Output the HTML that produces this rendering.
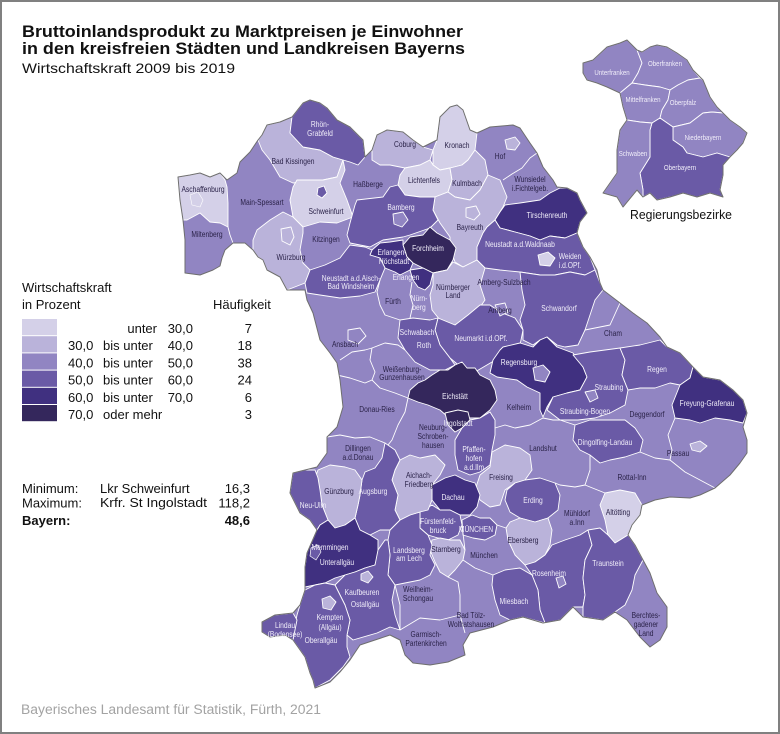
<!DOCTYPE html>
<html><head><meta charset="utf-8"><style>
html,body{margin:0;padding:0;background:#fff}
svg{display:block}
.l{font-family:"Liberation Sans",sans-serif;font-size:8.6px;text-anchor:middle}
.d{fill:#2a2248}.w{fill:#f0edf9}
.t{font-family:"Liberation Sans",sans-serif;fill:#111}
.b{fill:none;stroke:#fff;stroke-width:.9;stroke-linejoin:round}
.p{stroke:#fff;stroke-width:.9;stroke-linejoin:round}
.c1{fill:#d4d0e8}.c2{fill:#bab3da}.c3{fill:#9185c2}.c4{fill:#6a5aa6}.c5{fill:#403080}.c6{fill:#34275c}
.ol{fill:none;stroke:#6e6e6e;stroke-width:1;stroke-linejoin:round}
</style></head><body>
<svg width="780" height="734" viewBox="0 0 780 734" xmlns="http://www.w3.org/2000/svg">
<rect x="1" y="1" width="778" height="732" fill="#fff" stroke="#808080" stroke-width="2"/>

<!-- Title -->
<text class="t" x="22" y="37" font-size="16.5" font-weight="bold" textLength="441" lengthAdjust="spacingAndGlyphs">Bruttoinlandsprodukt zu Marktpreisen je Einwohner</text>
<text class="t" x="22" y="54" font-size="16.5" font-weight="bold" textLength="443" lengthAdjust="spacingAndGlyphs">in den kreisfreien Städten und Landkreisen Bayerns</text>
<text class="t" x="22" y="73" font-size="14" textLength="213" lengthAdjust="spacingAndGlyphs">Wirtschaftskraft 2009 bis 2019</text>

<!-- MAIN MAP base -->
<polygon class="c3" points="178,177 190,175 200,173 210,177 220,173 227,180 237,173 240,162 250,152 258,140 262,135 267,125 280,122 292,117 303,103 310,100 320,103 327,108 337,120 350,127 363,140 365,157 372,150 377,135 387,130 403,132 413,140 423,147 437,140 440,117 450,107 457,105 463,110 470,130 477,133 490,127 513,125 520,128 530,143 537,153 543,167 553,180 557,187 567,188 577,193 580,200 587,213 580,222 577,233 583,247 590,257 597,270 600,283 603,290 620,303 633,313 647,323 660,337 667,347 680,353 693,367 703,377 720,380 733,390 743,400 747,413 743,427 747,440 747,453 740,463 730,475 715,488 700,495 690,498 670,497 655,500 642,505 640,515 632,525 628,535 635,545 643,560 650,573 657,593 667,607 667,627 660,640 650,647 640,637 627,620 615,612 603,620 583,617 573,607 560,620 543,623 523,617 510,620 493,627 470,633 463,645 465,655 448,662 430,665 413,663 405,655 400,640 390,635 375,640 360,645 350,660 340,672 330,682 315,688 313,680 310,673 305,657 293,640 285,635 270,637 262,632 262,622 275,615 293,613 300,605 305,590 305,583 305,567 307,553 317,530 310,520 300,513 290,493 293,473 305,470 317,467 327,453 327,437 337,427 343,407 340,380 337,363 330,353 320,340 313,313 307,300 305,290 287,290 280,277 267,270 263,260 258,257 253,250 245,243 233,243 225,250 222,258 220,266 213,270 200,275 185,273 185,240 183,220 180,200"/>

<!-- Unterfranken -->
<polygon class="p c1" points="178,177 190,175 200,173 210,177 220,173 225,180 227,187 228,203 228,215 228,227 220,223 210,222 200,213 187,220 183,220 180,200"/>
<polygon class="p c1" points="190,195 198,192 203,200 200,207 192,205" style="stroke-width:.6"/>
<polygon class="p c2" points="258,140 262,135 267,125 280,122 292,117 290,133 303,147 320,150 333,157 343,160 337,177 323,180 305,182 293,183 280,177 270,160 262,150"/>
<polygon class="p c4" points="292,117 303,103 310,100 320,103 327,108 337,120 350,127 363,140 365,157 358,165 350,162 343,160 333,157 320,150 303,147 290,133"/>
<polygon class="p c1" points="297,180 323,180 337,177 343,160 345,170 340,183 347,200 353,217 337,223 320,222 303,227 293,217 290,200 293,187"/>
<polygon class="p c4" points="318,188 324,186 327,193 322,198 317,195"/>
<polygon class="p c2" points="253,240 257,230 270,220 283,212 293,217 303,227 303,233 300,250 303,263 310,270 305,283 287,290 280,277 267,270 263,260 258,257 253,250"/>
<polygon class="p c2" points="281,229 291,227 294,237 290,245 282,241"/>
<!-- Oberfranken -->
<polygon class="p c2" points="372,150 377,135 387,130 403,132 413,140 423,147 433,150 430,160 420,165 405,168 390,165 380,165 372,160"/>
<polygon class="p c1" points="433,150 437,140 440,117 450,107 457,105 463,110 470,130 477,133 475,150 468,160 462,165 450,168 440,170 433,165"/>
<polygon class="p c1" points="405,168 420,165 430,160 433,165 440,170 450,168 452,180 448,192 435,197 420,197 405,195 398,185 400,175"/>
<polygon class="p c2" points="450,168 462,165 468,160 475,150 485,160 488,175 480,190 470,200 455,197 448,192 452,180"/>
<polygon class="p c2" points="505,140 515,137 520,143 515,150 507,149"/>
<polygon class="p c2" points="435,197 448,192 455,197 470,200 480,190 488,175 500,180 507,197 503,207 495,220 487,227 483,233 477,247 477,260 463,267 455,262 450,248 450,237 440,223 433,210"/>
<polygon class="p c2" points="466,208 476,206 480,214 474,220 466,217"/>
<polygon class="p c4" points="350,223 355,205 357,200 383,197 390,187 398,185 405,195 420,197 435,197 433,210 438,220 430,228 410,235 403,237 383,240 370,247 350,243 347,235"/>
<polygon class="p c3" points="393,214 403,212 408,220 402,227 394,224"/>
<polygon class="p c6" points="410,237 423,235 430,227 437,233 450,240 456,248 453,260 447,270 433,273 423,268 413,263 407,257 403,245"/>
<polygon class="p c5" points="372,250 380,243 390,242 403,240 403,245 407,257 413,263 410,270 400,275 395,272 385,268 380,258 370,255"/>
<polygon class="p c5" points="410,270 423,268 433,273 430,285 425,290 418,287 413,280"/>
<!-- Oberpfalz -->
<polygon class="p c5" points="505,205 520,203 540,200 550,193 560,188 567,188 577,193 580,200 587,213 580,222 577,233 565,238 550,236 540,240 530,236 515,232 500,228 495,220 500,212"/>
<polygon class="p c4" points="487,227 495,220 500,228 515,232 530,236 540,240 550,236 565,238 577,233 583,247 590,257 595,270 585,275 570,272 555,275 540,275 520,272 500,270 485,268 477,260 477,247 483,233"/>
<polygon class="p c1" points="538,255 548,252 555,258 550,266 540,265"/>
<polygon class="p c4" points="520,272 540,275 555,275 570,272 585,275 595,270 600,283 603,290 595,300 590,315 585,330 578,345 565,347 557,345 547,337 540,340 533,345 523,340 523,330 520,320 525,305 522,290"/>
<polygon class="p c2" points="433,273 447,270 453,262 463,267 477,260 485,268 480,285 485,300 478,310 465,318 455,325 440,320 432,310 430,295 433,285"/>
<polygon class="p c4" points="438,318 455,325 468,315 480,305 490,305 500,312 515,318 523,330 520,345 510,355 492,362 475,372 462,368 450,358 440,345 435,330"/>
<polygon class="p c3" points="495,305 505,303 508,312 500,316"/>
<polygon class="p c5" points="503,347 520,343 533,347 540,340 547,337 557,347 573,353 583,367 587,377 580,390 567,393 553,397 547,407 543,417 540,410 540,393 527,387 517,380 497,377 490,373 493,360 500,350"/>
<polygon class="p c3" points="533,368 543,365 550,372 545,382 535,380"/>
<!-- Mittelfranken -->
<polygon class="p c4" points="307,293 305,283 310,270 325,265 340,258 350,245 365,247 372,250 370,255 380,258 385,268 380,280 375,292 360,296 340,298 320,295"/>
<polygon class="p c4" points="400,320 413,318 430,320 438,318 435,330 440,345 450,358 455,365 445,370 430,370 415,362 405,350 398,338"/>
<polygon class="p c3" points="348,330 360,328 366,336 358,344 348,340"/>
<!-- Niederbayern -->
<polygon class="p c4" points="573,355 590,352 605,350 620,348 625,360 622,375 628,390 625,405 610,413 595,418 578,420 560,420 547,410 553,397 567,393 580,390 587,377 583,367"/>
<polygon class="p c3" points="585,392 595,390 598,398 590,402"/>
<polygon class="p c4" points="620,348 640,345 660,340 667,347 680,353 693,367 690,378 680,385 670,383 655,388 640,388 628,390 622,375 625,360"/>
<polygon class="p c5" points="680,385 690,378 693,367 703,377 720,380 733,390 743,400 747,413 743,423 730,420 715,418 700,423 690,420 675,418 672,405 676,395"/>
<polygon class="p c4" points="575,425 590,420 610,420 625,420 635,428 643,440 640,452 625,457 610,460 600,463 590,455 580,450 573,440"/>
<polygon class="p c2" points="690,444 700,441 707,446 700,452 692,450"/>
<!-- Oberbayern -->
<polygon class="p c6" points="410,390 418,383 425,380 432,375 440,370 448,370 455,365 462,362 467,368 475,368 480,375 490,380 495,390 497,400 490,410 480,418 467,418 458,423 448,417 440,410 428,405 418,402 408,398"/>
<polygon class="p c6" points="445,413 458,410 468,412 470,420 462,428 455,432 448,425"/>
<polygon class="p c4" points="462,428 470,420 480,418 490,412 495,420 495,435 492,450 490,465 480,472 470,475 458,470 455,455 455,440"/>
<polygon class="p c2" points="492,452 505,445 520,448 530,455 532,470 525,480 515,483 505,490 500,505 490,507 480,500 475,490 480,475 490,467"/>
<polygon class="p c4" points="515,483 525,480 540,478 555,483 560,495 558,510 548,518 535,522 520,518 510,512 505,500 507,490"/>
<polygon class="p c5" points="432,485 445,478 455,475 465,480 475,483 480,495 477,507 470,515 460,515 450,510 440,510 432,500"/>
<polygon class="p c4" points="420,512 432,505 440,510 450,510 460,515 462,525 458,535 448,540 438,538 428,535 420,528"/>
<polygon class="p c4" points="462,520 472,515 480,518 490,518 497,525 495,535 485,540 473,538 463,535"/>
<polygon class="p c2" points="432,540 440,538 450,540 460,540 465,550 463,560 455,570 448,577 440,572 435,562 430,550"/>
<polygon class="p c2" points="510,522 520,518 535,522 548,518 552,530 550,545 545,555 535,562 525,565 515,555 508,540 506,528"/>
<polygon class="p c1" points="605,493 620,490 635,493 642,505 640,515 632,525 628,535 615,543 608,535 605,520 600,505"/>
<polygon class="p c4" points="525,565 535,562 545,555 552,545 565,540 580,535 588,530 592,545 585,560 583,578 585,595 583,607 573,607 560,620 545,623 540,610 538,590 532,575"/>
<polygon class="p c3" points="556,578 563,576 566,584 559,588"/>
<polygon class="p c4" points="493,575 505,570 520,568 532,575 538,590 540,610 545,623 523,617 510,620 500,615 495,600 492,585"/>
<polygon class="p c4" points="588,530 600,528 608,535 615,543 628,535 635,545 643,560 635,575 632,590 625,605 615,612 603,620 583,617 583,607 585,595 583,578 585,560 592,545"/>
<polygon class="p c4" points="390,530 400,520 410,515 420,512 420,528 428,535 432,545 430,555 435,565 430,575 420,580 410,582 395,585 388,575 390,555 388,540"/>
<polygon class="p c2" points="400,460 410,455 420,458 435,455 445,465 440,475 432,485 432,500 428,510 420,512 410,515 400,520 395,510 398,495 392,480 395,470"/>
<!-- Schwaben -->
<polygon class="p c4" points="385,443 395,450 400,460 395,470 392,480 398,495 395,510 400,520 390,530 380,530 370,535 360,530 355,518 358,505 360,495 362,480 365,472 375,468 382,458"/>
<polygon class="p c2" points="318,470 330,465 345,467 355,470 362,480 360,495 358,505 355,518 345,525 335,528 328,520 322,505 320,490 315,478"/>
<polygon class="p c4" points="293,473 305,470 315,470 318,478 320,490 322,505 328,520 320,525 317,530 310,520 300,513 290,493"/>
<polygon class="p c5" points="317,530 320,525 328,520 335,528 345,525 355,518 360,530 370,535 378,540 378,555 375,565 365,568 355,572 345,575 335,578 325,583 315,585 305,587 305,567 307,553"/>
<polygon class="p c4" points="365,568 375,565 378,550 385,540 388,540 390,555 388,575 395,585 392,600 395,615 400,630 390,627 377,633 353,640 347,635 350,620 345,605 340,595 335,585 345,575 355,572"/>
<polygon class="p c4" points="300,605 305,590 315,585 325,583 335,585 340,595 345,605 350,620 347,635 347,647 350,657 343,667 330,680 315,688 313,680 310,673 305,657 293,640 295,625 297,615"/>
<polygon class="p c4" points="262,622 275,615 293,613 297,620 295,630 293,640 285,635 270,637 262,632"/>
<polygon class="p c2" points="322,599 330,596 336,602 331,610 323,608"/>
<polygon class="p c2" points="361,574 368,571 373,577 368,583 361,580"/>
<polygon class="p c4" points="311,548 318,545 321,552 316,560 310,556" style="stroke-width:.7"/>

<!-- C3-C3 boundaries -->
<polyline class="b" points="228,227 230,235 233,243"/>
<polyline class="b" points="503,180 512,174 522,168 530,158 537,153"/>
<polyline class="b" points="380,280 377,292 380,305 385,315 400,320"/>
<polyline class="b" points="412,282 410,295 413,305 410,318"/>
<polyline class="b" points="340,360 352,352 365,350 372,348 385,343 398,345 405,350"/>
<polyline class="b" points="372,348 370,360 375,372 372,380 380,388 395,393 408,398"/>
<polyline class="b" points="337,375 350,378 365,383 372,380"/>
<polyline class="b" points="327,437 340,435 355,438 370,437 385,443"/>
<polyline class="b" points="408,398 405,412 398,425 392,440 388,445"/>
<polyline class="b" points="495,428 505,425 515,428 530,425 543,418 553,420 560,420 575,425"/>
<polyline class="b" points="590,455 590,470 585,485 575,487 560,485 555,483"/>
<polyline class="b" points="585,485 605,493"/>
<polyline class="b" points="675,418 668,435 672,450 670,460"/>
<polyline class="b" points="640,452 655,458 670,460 685,472 700,480 715,488"/>
<polyline class="b" points="395,585 400,605 400,630"/>
<polyline class="b" points="400,630 420,618 440,620 460,615"/>
<polyline class="b" points="448,577 458,582 460,595 460,615 465,633"/>
<polyline class="b" points="463,560 475,568 493,575"/>
<polyline class="b" points="462,525 465,550"/>
<polyline class="b" points="497,525 506,528"/>
<polyline class="b" points="585,330 610,325 620,303"/>

<!-- outer border on top -->
<polygon class="ol" points="178,177 190,175 200,173 210,177 220,173 227,180 237,173 240,162 250,152 258,140 262,135 267,125 280,122 292,117 303,103 310,100 320,103 327,108 337,120 350,127 363,140 365,157 372,150 377,135 387,130 403,132 413,140 423,147 437,140 440,117 450,107 457,105 463,110 470,130 477,133 490,127 513,125 520,128 530,143 537,153 543,167 553,180 557,187 567,188 577,193 580,200 587,213 580,222 577,233 583,247 590,257 597,270 600,283 603,290 620,303 633,313 647,323 660,337 667,347 680,353 693,367 703,377 720,380 733,390 743,400 747,413 743,427 747,440 747,453 740,463 730,475 715,488 700,495 690,498 670,497 655,500 642,505 640,515 632,525 628,535 635,545 643,560 650,573 657,593 667,607 667,627 660,640 650,647 640,637 627,620 615,612 603,620 583,617 573,607 560,620 543,623 523,617 510,620 493,627 470,633 463,645 465,655 448,662 430,665 413,663 405,655 400,640 390,635 375,640 360,645 350,660 340,672 330,682 315,688 313,680 310,673 305,657 293,640 285,635 270,637 262,632 262,622 275,615 293,613 300,605 305,590 305,583 305,567 307,553 317,530 310,520 300,513 290,493 293,473 305,470 317,467 327,453 327,437 337,427 343,407 340,380 337,363 330,353 320,340 313,313 307,300 305,290 287,290 280,277 267,270 263,260 258,257 253,250 245,243 233,243 225,250 222,258 220,266 213,270 200,275 185,273 185,240 183,220 180,200"/>

<!-- district labels -->
<g class="l">
<text class="w" transform="translate(320 127) scale(.78 1)">Rhön-</text>
<text class="w" transform="translate(320 136) scale(.78 1)">Grabfeld</text>
<text class="d" transform="translate(293 164) scale(.78 1)">Bad Kissingen</text>
<text class="d" transform="translate(203 192) scale(.78 1)">Aschaffenburg</text>
<text class="d" transform="translate(262 205) scale(.78 1)">Main-Spessart</text>
<text class="d" transform="translate(207 237) scale(.78 1)">Miltenberg</text>
<text class="d" transform="translate(368 187) scale(.78 1)">Haßberge</text>
<text class="d" transform="translate(326 214) scale(.78 1)">Schweinfurt</text>
<text class="d" transform="translate(405 147) scale(.78 1)">Coburg</text>
<text class="d" transform="translate(457 148) scale(.78 1)">Kronach</text>
<text class="d" transform="translate(424 183) scale(.78 1)">Lichtenfels</text>
<text class="d" transform="translate(467 186) scale(.78 1)">Kulmbach</text>
<text class="d" transform="translate(500 159) scale(.78 1)">Hof</text>
<text class="d" transform="translate(530 182) scale(.78 1)">Wunsiedel</text>
<text class="d" transform="translate(530 191) scale(.78 1)">i.Fichtelgeb.</text>
<text class="w" transform="translate(401 210) scale(.78 1)">Bamberg</text>
<text class="d" transform="translate(326 242) scale(.78 1)">Kitzingen</text>
<text class="d" transform="translate(291 260) scale(.78 1)">Würzburg</text>
<text class="d" transform="translate(470 230) scale(.78 1)">Bayreuth</text>
<text class="w" transform="translate(428 251) scale(.78 1)">Forchheim</text>
<text class="w" transform="translate(392 255) scale(.78 1)">Erlangen-</text>
<text class="w" transform="translate(394 264) scale(.78 1)">Höchstadt</text>
<text class="w" transform="translate(406 280) scale(.78 1)">Erlangen</text>
<text class="w" transform="translate(547 218) scale(.78 1)">Tirschenreuth</text>
<text class="w" transform="translate(520 247) scale(.78 1)">Neustadt a.d.Waldnaab</text>
<text class="w" transform="translate(570 259) scale(.78 1)">Weiden</text>
<text class="w" transform="translate(570 268) scale(.78 1)">i.d.OPf.</text>
<text class="w" transform="translate(351 281) scale(.78 1)">Neustadt a.d.Aisch-</text>
<text class="w" transform="translate(351 289) scale(.78 1)">Bad Windsheim</text>
<text class="d" transform="translate(453 290) scale(.78 1)">Nürnberger</text>
<text class="d" transform="translate(453 298) scale(.78 1)">Land</text>
<text class="d" transform="translate(504 285) scale(.78 1)">Amberg-Sulzbach</text>
<text class="d" transform="translate(393 304) scale(.78 1)">Fürth</text>
<text class="w" transform="translate(419 301) scale(.78 1)">Nürn-</text>
<text class="w" transform="translate(419 310) scale(.78 1)">berg</text>
<text class="d" transform="translate(500 313) scale(.78 1)">Amberg</text>
<text class="w" transform="translate(559 311) scale(.78 1)">Schwandorf</text>
<text class="d" transform="translate(345 347) scale(.78 1)">Ansbach</text>
<text class="w" transform="translate(417 335) scale(.78 1)">Schwabach</text>
<text class="w" transform="translate(424 348) scale(.78 1)">Roth</text>
<text class="w" transform="translate(481 341) scale(.78 1)">Neumarkt i.d.OPf.</text>
<text class="d" transform="translate(613 336) scale(.78 1)">Cham</text>
<text class="w" transform="translate(519 365) scale(.78 1)">Regensburg</text>
<text class="w" transform="translate(657 372) scale(.78 1)">Regen</text>
<text class="d" transform="translate(402 372) scale(.78 1)">Weißenburg-</text>
<text class="d" transform="translate(402 380) scale(.78 1)">Gunzenhausen</text>
<text class="w" transform="translate(609 390) scale(.78 1)">Straubing</text>
<text class="w" transform="translate(455 399) scale(.78 1)">Eichstätt</text>
<text class="w" transform="translate(707 406) scale(.78 1)">Freyung-Grafenau</text>
<text class="d" transform="translate(519 410) scale(.78 1)">Kelheim</text>
<text class="d" transform="translate(377 412) scale(.78 1)">Donau-Ries</text>
<text class="w" transform="translate(585 414) scale(.78 1)">Straubing-Bogen</text>
<text class="d" transform="translate(647 417) scale(.78 1)">Deggendorf</text>
<text class="w" transform="translate(458 426) scale(.78 1)">Ingolstadt</text>
<text class="d" transform="translate(433 430) scale(.78 1)">Neuburg-</text>
<text class="d" transform="translate(433 439) scale(.78 1)">Schroben-</text>
<text class="d" transform="translate(433 448) scale(.78 1)">hausen</text>
<text class="w" transform="translate(605 445) scale(.78 1)">Dingolfing-Landau</text>
<text class="w" transform="translate(474 452) scale(.78 1)">Pfaffen-</text>
<text class="w" transform="translate(474 461) scale(.78 1)">hofen</text>
<text class="w" transform="translate(474 470) scale(.78 1)">a.d.Ilm</text>
<text class="d" transform="translate(543 451) scale(.78 1)">Landshut</text>
<text class="d" transform="translate(678 456) scale(.78 1)">Passau</text>
<text class="d" transform="translate(358 451) scale(.78 1)">Dillingen</text>
<text class="d" transform="translate(358 460) scale(.78 1)">a.d.Donau</text>
<text class="d" transform="translate(419 478) scale(.78 1)">Aichach-</text>
<text class="d" transform="translate(419 487) scale(.78 1)">Friedberg</text>
<text class="d" transform="translate(632 480) scale(.78 1)">Rottal-Inn</text>
<text class="d" transform="translate(501 480) scale(.78 1)">Freising</text>
<text class="d" transform="translate(339 494) scale(.78 1)">Günzburg</text>
<text class="w" transform="translate(373 494) scale(.78 1)">Augsburg</text>
<text class="w" transform="translate(453 500) scale(.78 1)">Dachau</text>
<text class="w" transform="translate(533 503) scale(.78 1)">Erding</text>
<text class="w" transform="translate(313 508) scale(.78 1)">Neu-Ulm</text>
<text class="d" transform="translate(577 516) scale(.78 1)">Mühldorf</text>
<text class="d" transform="translate(577 525) scale(.78 1)">a.Inn</text>
<text class="d" transform="translate(618 515) scale(.78 1)">Altötting</text>
<text class="w" transform="translate(438 524) scale(.78 1)">Fürstenfeld-</text>
<text class="w" transform="translate(438 533) scale(.78 1)">bruck</text>
<text class="w" transform="translate(476 532) scale(.78 1)">MÜNCHEN</text>
<text class="d" transform="translate(523 543) scale(.78 1)">Ebersberg</text>
<text class="w" transform="translate(330 550) scale(.78 1)">Memmingen</text>
<text class="w" transform="translate(409 553) scale(.78 1)">Landsberg</text>
<text class="w" transform="translate(409 561) scale(.78 1)">am Lech</text>
<text class="d" transform="translate(446 552) scale(.78 1)">Starnberg</text>
<text class="d" transform="translate(484 558) scale(.78 1)">München</text>
<text class="w" transform="translate(337 565) scale(.78 1)">Unterallgäu</text>
<text class="w" transform="translate(608 566) scale(.78 1)">Traunstein</text>
<text class="w" transform="translate(549 576) scale(.78 1)">Rosenheim</text>
<text class="w" transform="translate(362 595) scale(.78 1)">Kaufbeuren</text>
<text class="d" transform="translate(418 592) scale(.78 1)">Weilheim-</text>
<text class="d" transform="translate(418 601) scale(.78 1)">Schongau</text>
<text class="w" transform="translate(514 604) scale(.78 1)">Miesbach</text>
<text class="w" transform="translate(365 607) scale(.78 1)">Ostallgäu</text>
<text class="w" transform="translate(330 620) scale(.78 1)">Kempten</text>
<text class="w" transform="translate(330 630) scale(.78 1)">(Allgäu)</text>
<text class="d" transform="translate(471 618) scale(.78 1)">Bad Tölz-</text>
<text class="d" transform="translate(471 627) scale(.78 1)">Wolfratshausen</text>
<text class="d" transform="translate(646 618) scale(.78 1)">Berchtes-</text>
<text class="d" transform="translate(646 627) scale(.78 1)">gadener</text>
<text class="d" transform="translate(646 636) scale(.78 1)">Land</text>
<text class="w" transform="translate(285 628) scale(.78 1)">Lindau</text>
<text class="w" transform="translate(285 637) scale(.78 1)">(Bodensee)</text>
<text class="w" transform="translate(321 643) scale(.78 1)">Oberallgäu</text>
<text class="d" transform="translate(426 637) scale(.78 1)">Garmisch-</text>
<text class="d" transform="translate(426 646) scale(.78 1)">Partenkirchen</text>
</g>

<!-- INSET Regierungsbezirke -->
<g>
<polygon class="p c3" points="583,63 593,60 607,47 620,43 627,40 637,50 642,63 638,73 632,83 620,93 607,87 597,83 587,80 583,73"/>
<polygon class="p c3" points="637,50 642,52 650,47 657,45 667,47 677,53 687,60 693,70 700,78 688,80 678,85 670,90 660,87 645,85 632,83 638,73 642,63"/>
<polygon class="p c3" points="632,83 645,85 660,87 670,90 668,100 662,110 660,118 652,123 640,122 627,120 623,107 620,93"/>
<polygon class="p c3" points="670,90 678,85 688,80 700,78 703,80 710,97 717,107 723,113 712,112 703,113 690,123 673,127 660,118 662,110 668,100"/>
<polygon class="p c3" points="673,127 690,123 703,113 712,112 723,113 730,120 740,127 747,133 743,143 737,150 730,157 717,153 703,157 687,153 683,147 673,140"/>
<polygon class="p c4" points="652,123 660,118 673,127 673,140 683,147 687,153 703,157 717,153 730,157 723,165 723,175 720,190 723,197 710,193 697,197 683,193 670,197 657,200 650,193 643,197 643,190 640,173 650,157 650,130"/>
<polygon class="p c3" points="627,120 640,122 652,123 650,130 650,157 640,173 643,190 643,197 637,190 623,207 617,197 603,193 610,183 617,173 617,150 620,130"/>
<polygon class="ol" points="583,63 593,60 607,47 620,43 627,40 637,50 642,52 650,47 657,45 667,47 677,53 687,60 693,70 703,80 710,97 717,107 723,113 730,120 740,127 747,133 743,143 737,150 730,157 723,165 723,175 720,190 723,197 710,193 697,197 683,193 670,197 657,200 650,193 643,197 637,190 623,207 617,197 603,193 610,183 617,173 617,150 620,130 627,120 623,107 620,93 607,87 597,83 587,80 583,73"/>
<g class="l w" style="font-size:7.2px">
<text transform="translate(612 75) scale(.85 1)">Unterfranken</text>
<text transform="translate(665 66) scale(.85 1)">Oberfranken</text>
<text transform="translate(643 102) scale(.85 1)">Mittelfranken</text>
<text transform="translate(683 105) scale(.85 1)">Oberpfalz</text>
<text transform="translate(703 140) scale(.85 1)">Niederbayern</text>
<text transform="translate(633 156) scale(.85 1)">Schwaben</text>
<text transform="translate(680 170) scale(.85 1)">Oberbayern</text>
</g>
<text class="t" x="630" y="219" font-size="12.5" textLength="102" lengthAdjust="spacingAndGlyphs">Regierungsbezirke</text>
</g>

<!-- LEGEND -->
<g class="t" font-size="13">
<text x="22" y="292">Wirtschaftskraft</text>
<text x="22" y="309">in Prozent</text>
<text x="213" y="309">Häufigkeit</text>
<rect x="22" y="319" width="35" height="16.2" class="c1"/>
<rect x="22" y="336.2" width="35" height="16.2" class="c2"/>
<rect x="22" y="353.4" width="35" height="16.2" class="c3"/>
<rect x="22" y="370.6" width="35" height="16.2" class="c4"/>
<rect x="22" y="387.8" width="35" height="16.2" class="c5"/>
<rect x="22" y="405" width="35" height="16.2" class="c6"/>
<text x="157" y="333" text-anchor="end">unter</text>
<text x="193" y="333" text-anchor="end">30,0</text>
<text x="252" y="333" text-anchor="end">7</text>
<text x="68" y="350">30,0</text><text x="103" y="350">bis unter</text>
<text x="193" y="350" text-anchor="end">40,0</text><text x="252" y="350" text-anchor="end">18</text>
<text x="68" y="367.5">40,0</text><text x="103" y="367.5">bis unter</text>
<text x="193" y="367.5" text-anchor="end">50,0</text><text x="252" y="367.5" text-anchor="end">38</text>
<text x="68" y="384.7">50,0</text><text x="103" y="384.7">bis unter</text>
<text x="193" y="384.7" text-anchor="end">60,0</text><text x="252" y="384.7" text-anchor="end">24</text>
<text x="68" y="402">60,0</text><text x="103" y="402">bis unter</text>
<text x="193" y="402" text-anchor="end">70,0</text><text x="252" y="402" text-anchor="end">6</text>
<text x="68" y="419">70,0</text><text x="103" y="419">oder mehr</text>
<text x="252" y="419" text-anchor="end">3</text>

<text x="22" y="493">Minimum:</text>
<text x="100" y="493">Lkr Schweinfurt</text>
<text x="250" y="493" text-anchor="end">16,3</text>
<text x="22" y="507.5">Maximum:</text>
<text x="100" y="507" textLength="107" lengthAdjust="spacingAndGlyphs">Krfr. St Ingolstadt</text>
<text x="250" y="507.5" text-anchor="end">118,2</text>
<text x="22" y="525" font-weight="bold">Bayern:</text>
<text x="250" y="525" text-anchor="end" font-weight="bold">48,6</text>
</g>

<!-- Footer -->
<text x="21" y="714" font-family="Liberation Sans, sans-serif" font-size="13.5" fill="#a3a3a3" textLength="300" lengthAdjust="spacingAndGlyphs">Bayerisches Landesamt für Statistik, Fürth, 2021</text>
</svg>
</body></html>
